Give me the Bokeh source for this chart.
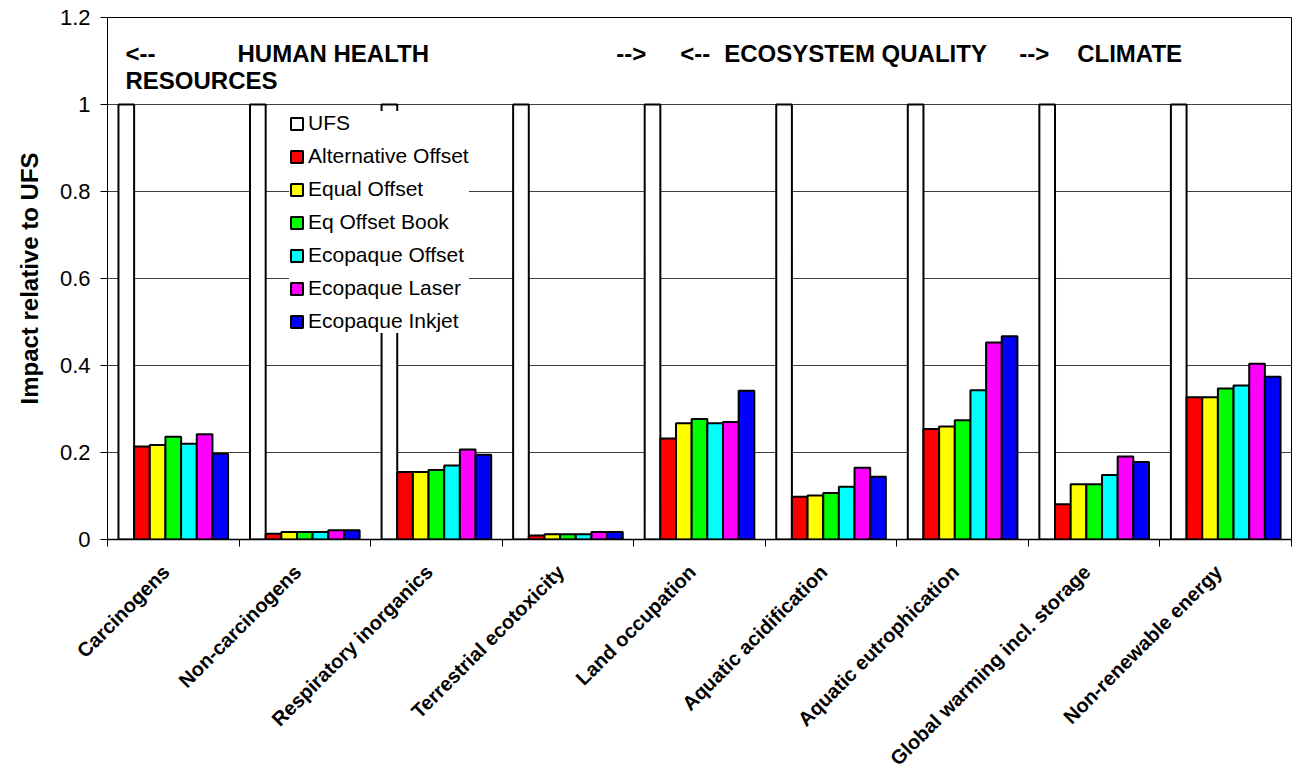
import math
from bokeh.plotting import figure
from bokeh.models import Range1d, FixedTicker, Legend, LegendItem, Label
from bokeh.embed import file_html
from bokeh.resources import INLINE

categories = ["Carcinogens", "Non-carcinogens", "Respiratory inorganics",
              "Terrestrial ecotoxicity", "Land occupation", "Aquatic acidification",
              "Aquatic eutrophication", "Global warming incl. storage",
              "Non-renewable energy"]

series_names = ["UFS", "Alternative Offset", "Equal Offset", "Eq Offset Book",
                "Ecopaque Offset", "Ecopaque Laser", "Ecopaque Inkjet"]
series_colors = ["#FFFFFF", "#FF0000", "#FFFF00", "#00FF00", "#00FFFF", "#FF00FF", "#0000FF"]

ufs = [1.0, 1.0, 1.0, 1.0, 1.0, 1.0, 1.0, 1.0, 1.0]
alternative_offset = [0.214, 0.013, 0.155, 0.009, 0.232, 0.098, 0.254, 0.081, 0.327]
equal_offset = [0.217, 0.017, 0.155, 0.012, 0.267, 0.101, 0.260, 0.127, 0.327]
eq_offset_book = [0.236, 0.017, 0.160, 0.012, 0.277, 0.107, 0.274, 0.127, 0.347]
ecopaque_offset = [0.220, 0.017, 0.170, 0.012, 0.267, 0.121, 0.343, 0.148, 0.354]
ecopaque_laser = [0.242, 0.021, 0.207, 0.017, 0.270, 0.165, 0.453, 0.191, 0.404]
ecopaque_inkjet = [0.197, 0.021, 0.195, 0.017, 0.342, 0.144, 0.467, 0.178, 0.374]

series_values = [ufs, alternative_offset, equal_offset, eq_offset_book,
                 ecopaque_offset, ecopaque_laser, ecopaque_inkjet]

y_tick_values = [0, 0.2, 0.4, 0.6, 0.8, 1.0, 1.2]
y_tick_labels = ["0", "0.2", "0.4", "0.6", "0.8", "1", "1.2"]

FONT = "Liberation Sans"
n_cat = len(categories)
n_ser = len(series_names)
bar_w = 1.0 / (n_ser * 1.2)
label_shift = -0.055  # rotated labels end slightly left of the category centre

p = figure(width=1293, height=780, x_range=Range1d(0, n_cat), y_range=Range1d(0, 1.2),
           output_backend="svg", toolbar_location=None,
           min_border_left=107, min_border_right=2, min_border_top=17, min_border_bottom=241)
p.background_fill_color = "white"
p.border_fill_color = "white"
p.outline_line_color = "black"
p.outline_line_width = 1

renderers = []
for j, (name, vals, color) in enumerate(zip(series_names, series_values, series_colors)):
    xs = [i + 0.5 + (j - (n_ser - 1) / 2) * bar_w for i in range(n_cat)]
    r = p.vbar(x=xs, top=vals, width=bar_w, bottom=0, fill_color=color,
               line_color="black", line_width=2)
    renderers.append(r)

label_pos = [i + 0.5 + label_shift for i in range(n_cat)]
bounds = [float(i) for i in range(n_cat + 1)]

xa = p.xaxis[0]
xa.ticker = FixedTicker(ticks=label_pos, minor_ticks=bounds)
xa.major_label_overrides = {c: name for c, name in zip(label_pos, categories)}
xa.major_label_orientation = math.pi / 4
xa.major_tick_in = 0
xa.major_tick_out = 0
xa.minor_tick_in = 0
xa.minor_tick_out = 7
xa.minor_tick_line_color = "black"
xa.axis_line_color = "black"
xa.axis_line_width = 1.5
xa.major_label_text_font = FONT
xa.major_label_text_font_style = "bold"
xa.major_label_text_font_size = "20px"
xa.major_label_text_color = "black"
xa.major_label_standoff = 22

ya = p.yaxis[0]
ya.ticker = FixedTicker(ticks=y_tick_values)
ya.major_label_overrides = {v: t for v, t in zip(y_tick_values, y_tick_labels)}
ya.major_tick_in = 0
ya.major_tick_out = 7
ya.minor_tick_line_color = None
ya.axis_line_color = "black"
ya.major_label_text_font = FONT
ya.major_label_text_font_size = "22px"
ya.major_label_text_color = "black"
ya.major_label_standoff = 10
ya.axis_label = "Impact relative to UFS"
ya.axis_label_text_font = FONT
ya.axis_label_text_font_style = "bold"
ya.axis_label_text_font_size = "24px"
ya.axis_label_text_color = "black"
ya.axis_label_standoff = 14

p.xgrid.visible = False
p.ygrid.ticker = FixedTicker(ticks=y_tick_values)
p.ygrid.grid_line_color = "#404040"
p.ygrid.grid_line_width = 1

headers = [("<--", 0.137, 1.117), ("HUMAN HEALTH", 0.988, 1.117), ("-->", 3.868, 1.117),
           ("<--", 4.354, 1.117), ("ECOSYSTEM QUALITY", 4.688, 1.117), ("-->", 6.930, 1.117),
           ("CLIMATE", 7.371, 1.117), ("RESOURCES", 0.137, 1.055)]
for txt, hx, hy in headers:
    p.add_layout(Label(x=hx, y=hy, text=txt, text_font=FONT, text_font_style="bold",
                       text_font_size="24px", text_baseline="middle", text_align="left",
                       text_color="black"))

legend = Legend(items=[LegendItem(label=n, renderers=[r]) for n, r in zip(series_names, renderers)],
                location=(182, 206), margin=0, padding=9, spacing=9,
                glyph_width=15, glyph_height=15, label_height=21, label_standoff=4,
                label_text_font=FONT, label_text_font_size="21px", label_text_color="black",
                background_fill_color="white", background_fill_alpha=1.0,
                border_line_color=None)
p.add_layout(legend)

open("out.html", "w").write(file_html(p, INLINE))
